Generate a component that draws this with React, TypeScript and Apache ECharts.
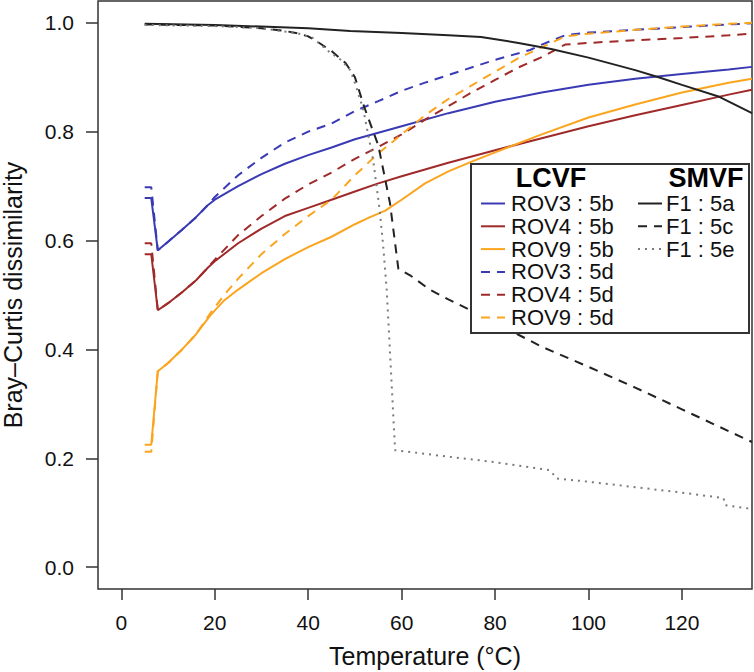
import React, { useEffect, useRef } from "react";
import * as echarts from "echarts";

// ---------- data ----------
const xTicks = [0, 20, 40, 60, 80, 100, 120];
const yTicks = [0, 0.2, 0.4, 0.6, 0.8, 1.0];

const lcvfNames = ["ROV3 : 5b", "ROV4 : 5b", "ROV9 : 5b", "ROV3 : 5d", "ROV4 : 5d", "ROV9 : 5d"];
const smvfNames = ["F1 : 5a", "F1 : 5c", "F1 : 5e"];

// ROV3 : 5b
const rov3bT = [5, 6.4, 7.8, 10, 13, 16, 18.5, 20, 25, 30, 35, 40, 45, 50, 55, 60, 70, 80, 90, 100, 110, 120, 130, 135];
const rov3bV = [0.678, 0.678, 0.582, 0.598, 0.62, 0.643, 0.665, 0.675, 0.7, 0.722, 0.741, 0.757, 0.771, 0.786, 0.798, 0.81, 0.834, 0.855, 0.872, 0.886, 0.897, 0.906, 0.914, 0.919];
// ROV4 : 5b
const rov4bT = [5, 6.4, 7.8, 10, 13, 16, 18.5, 20, 25, 30, 35, 40, 45, 50, 55, 60, 70, 80, 90, 100, 110, 120, 130, 135];
const rov4bV = [0.575, 0.575, 0.472, 0.485, 0.505, 0.527, 0.55, 0.562, 0.595, 0.622, 0.645, 0.66, 0.675, 0.69, 0.705, 0.718, 0.743, 0.766, 0.788, 0.81, 0.83, 0.849, 0.868, 0.877];
// ROV9 : 5b
const rov9bT = [5, 6.4, 7.8, 10, 13, 16, 19, 22, 25, 30, 35, 40, 45, 50, 53, 56.5, 60, 65, 70, 75, 80, 90, 100, 110, 120, 130, 135];
const rov9bV = [0.225, 0.225, 0.36, 0.375, 0.4, 0.428, 0.462, 0.49, 0.51, 0.54, 0.566, 0.588, 0.607, 0.63, 0.642, 0.655, 0.675, 0.705, 0.727, 0.745, 0.762, 0.795, 0.826, 0.85, 0.872, 0.89, 0.897];
// ROV3 : 5d
const rov3dT = [5, 6.4, 7.8, 10, 13, 16, 18.5, 20, 25, 30, 35, 40, 45, 50, 55, 60, 65, 70, 80, 87.5, 90, 95, 100, 110, 120, 130, 135];
const rov3dV = [0.698, 0.698, 0.582, 0.598, 0.62, 0.643, 0.665, 0.68, 0.72, 0.752, 0.78, 0.8, 0.815, 0.838, 0.856, 0.875, 0.89, 0.904, 0.932, 0.95, 0.96, 0.977, 0.982, 0.987, 0.992, 0.997, 0.999];
// ROV4 : 5d
const rov4dT = [5, 6.4, 7.8, 10, 13, 16, 18.5, 20, 25, 30, 35, 40, 45, 50, 55, 60, 65, 70, 75, 80, 85, 90, 95, 100, 110, 120, 130, 135];
const rov4dV = [0.595, 0.595, 0.472, 0.485, 0.505, 0.527, 0.55, 0.565, 0.61, 0.645, 0.677, 0.703, 0.725, 0.75, 0.772, 0.795, 0.822, 0.847, 0.872, 0.895, 0.918, 0.937, 0.96, 0.963, 0.968, 0.972, 0.977, 0.98];
// ROV9 : 5d
const rov9dT = [5, 6.4, 7.8, 10, 13, 16, 19, 22, 25, 30, 35, 40, 45, 50, 55, 60, 65, 70, 75, 80, 85, 90, 95, 100, 110, 120, 130, 135];
const rov9dV = [0.212, 0.212, 0.36, 0.375, 0.4, 0.428, 0.466, 0.5, 0.53, 0.575, 0.612, 0.645, 0.675, 0.72, 0.76, 0.795, 0.83, 0.86, 0.885, 0.91, 0.935, 0.955, 0.975, 0.98, 0.987, 0.993, 0.998, 1.0];
// F1 : 5a
const f1aT = [5, 20, 40, 49, 60, 70, 77, 85, 92, 100, 110, 115, 120, 128, 135];
const f1aV = [0.998, 0.996, 0.99, 0.985, 0.981, 0.977, 0.974, 0.963, 0.952, 0.936, 0.913, 0.9, 0.886, 0.864, 0.834];
// F1 : 5c
const f1cT = [5, 20, 30, 35, 38, 40, 42, 45, 48, 50, 52, 55, 57.5, 58.6, 59.3, 62, 66, 70, 80, 85, 90, 100, 110, 120, 130, 135];
const f1cV = [0.997, 0.995, 0.99, 0.985, 0.98, 0.975, 0.965, 0.948, 0.926, 0.9, 0.845, 0.775, 0.669, 0.595, 0.548, 0.535, 0.51, 0.492, 0.45, 0.427, 0.405, 0.368, 0.33, 0.29, 0.25, 0.23];
// F1 : 5e
const f1eT = [5, 20, 30, 38, 41, 44.7, 47, 49, 50.3, 51.8, 53.9, 55.3, 56, 56.8, 57.6, 58.2, 58.6, 70, 80, 91.8, 93.2, 100, 110, 120, 128.9, 129.3, 134.2, 135];
const f1eV = [0.996, 0.994, 0.99, 0.98, 0.972, 0.945, 0.932, 0.913, 0.882, 0.84, 0.748, 0.656, 0.595, 0.51, 0.38, 0.28, 0.215, 0.203, 0.193, 0.178, 0.163, 0.157, 0.147, 0.137, 0.127, 0.114, 0.108, 0.107];

// ---------- styles ----------
const BLUE = "#3a3ab4";
const RED = "#a02a2a";
const ORANGE = "#fba41e";
const BLACK = "#222222";
const GREY = "#7a7a7a";
const DASH = [9, 7];
const DOT = [2, 5];
const FONT = "'Liberation Sans', Arial, Helvetica, sans-serif";

const pairs = (t: number[], v: number[]) => t.map((x, i) => [x, v[i]]);

const lcvfSeries = [
  { name: lcvfNames[0], data: pairs(rov3bT, rov3bV), color: BLUE, dash: "solid" as any },
  { name: lcvfNames[1], data: pairs(rov4bT, rov4bV), color: RED, dash: "solid" as any },
  { name: lcvfNames[2], data: pairs(rov9bT, rov9bV), color: ORANGE, dash: "solid" as any },
  { name: lcvfNames[3], data: pairs(rov3dT, rov3dV), color: BLUE, dash: DASH as any },
  { name: lcvfNames[4], data: pairs(rov4dT, rov4dV), color: RED, dash: DASH as any },
  { name: lcvfNames[5], data: pairs(rov9dT, rov9dV), color: ORANGE, dash: DASH as any },
];
const smvfSeries = [
  { name: smvfNames[0], data: pairs(f1aT, f1aV), color: BLACK, dash: "solid" as any },
  { name: smvfNames[1], data: pairs(f1cT, f1cV), color: BLACK, dash: DASH as any },
  { name: smvfNames[2], data: pairs(f1eT, f1eV), color: GREY, dash: DOT as any },
];

const toLineDash = (d: any) => (d === "solid" ? null : d);

export default function App() {
  const ref = useRef<HTMLDivElement>(null);
  useEffect(() => {
    if (!ref.current) return;
    const chart = echarts.init(ref.current, null, { renderer: "svg" });

    const all = [...lcvfSeries, ...smvfSeries];
    const series = all.map((s) => ({
      name: s.name,
      type: "line",
      data: s.data,
      showSymbol: false,
      symbol: "none",
      smooth: false,
      lineStyle: { color: s.color, width: 2, type: s.dash },
      itemStyle: { color: s.color },
      z: 2,
    }));

    // Legend (graphic)
    const box = { x: 471, y: 164, w: 278, h: 169 };
    const rowStart = 203.5;
    const rowStep = 22.8;
    const legendEls: any[] = [
      {
        type: "rect",
        shape: { x: box.x, y: box.y, width: box.w, height: box.h },
        style: { fill: "#ffffff", stroke: "#333333", lineWidth: 2 },
        z: 100,
      },
      {
        type: "text",
        x: 551,
        y: 178,
        style: { text: "LCVF", font: `bold 27px ${FONT}`, lineHeight: 24, fill: "#000", align: "center", verticalAlign: "middle" },
        z: 101,
      },
      {
        type: "text",
        x: 706,
        y: 178,
        style: { text: "SMVF", font: `bold 27px ${FONT}`, lineHeight: 24, fill: "#000", align: "center", verticalAlign: "middle" },
        z: 101,
      },
    ];
    lcvfSeries.forEach((s, i) => {
      const y = rowStart + i * rowStep;
      legendEls.push({
        type: "line",
        shape: { x1: 481, y1: y, x2: 505, y2: y },
        style: { stroke: s.color, lineWidth: 2, lineDash: toLineDash(s.dash) },
        z: 101,
      });
      legendEls.push({
        type: "text",
        x: 511,
        y: y,
        style: { text: s.name, font: `22px ${FONT}`, lineHeight: 21, fill: "#111", align: "left", verticalAlign: "middle" },
        z: 101,
      });
    });
    smvfSeries.forEach((s, i) => {
      const y = rowStart + i * rowStep;
      legendEls.push({
        type: "line",
        shape: { x1: 638, y1: y, x2: 662, y2: y },
        style: { stroke: s.color, lineWidth: 2, lineDash: toLineDash(s.dash) },
        z: 101,
      });
      legendEls.push({
        type: "text",
        x: 666,
        y: y,
        style: { text: s.name, font: `22px ${FONT}`, lineHeight: 21, fill: "#111", align: "left", verticalAlign: "middle" },
        z: 101,
      });
    });

    chart.setOption({
      animation: false,
      backgroundColor: "#ffffff",
      textStyle: { fontFamily: FONT },
      grid: {
        left: 98,
        top: 1,
        right: 2,
        bottom: 83,
        show: true,
        borderColor: "#333333",
        borderWidth: 1.5,
        backgroundColor: "transparent",
        containLabel: false,
        outerBoundsMode: "none",
      },
      xAxis: {
        type: "value",
        min: -5,
        max: 135,
        axisLine: { show: false, onZero: false },
        axisTick: { show: true, length: 11, customValues: xTicks, lineStyle: { color: "#333", width: 1.5 } },
        axisLabel: {
          customValues: xTicks,
          fontSize: 21,
          color: "#111",
          margin: 33,
          verticalAlign: "middle",
          fontFamily: FONT,
        },
        splitLine: { show: false },
        name: "Temperature (°C)",
        nameLocation: "middle",
        nameGap: 67,
        nameTextStyle: { fontSize: 25, color: "#111", verticalAlign: "middle", fontFamily: FONT },
      },
      yAxis: {
        type: "value",
        min: -0.04,
        max: 1.04,
        axisLine: { show: false, onZero: false },
        axisTick: { show: true, length: 12, customValues: yTicks, lineStyle: { color: "#333", width: 1.5 } },
        axisLabel: {
          customValues: yTicks,
          fontSize: 21,
          color: "#111",
          margin: 24,
          formatter: (v: number) => v.toFixed(1),
          fontFamily: FONT,
        },
        splitLine: { show: false },
        name: "Bray–Curtis dissimilarity",
        nameLocation: "middle",
        nameRotate: 90,
        nameGap: 85,
        nameTextStyle: { fontSize: 25, color: "#111", verticalAlign: "middle", fontFamily: FONT },
      },
      series,
      graphic: { elements: legendEls },
    } as any);

    return () => chart.dispose();
  }, []);

  return (
    <div
      ref={ref}
      style={{ position: "fixed", left: 0, top: 0, width: 754, height: 672, background: "#fff" }}
    />
  );
}
